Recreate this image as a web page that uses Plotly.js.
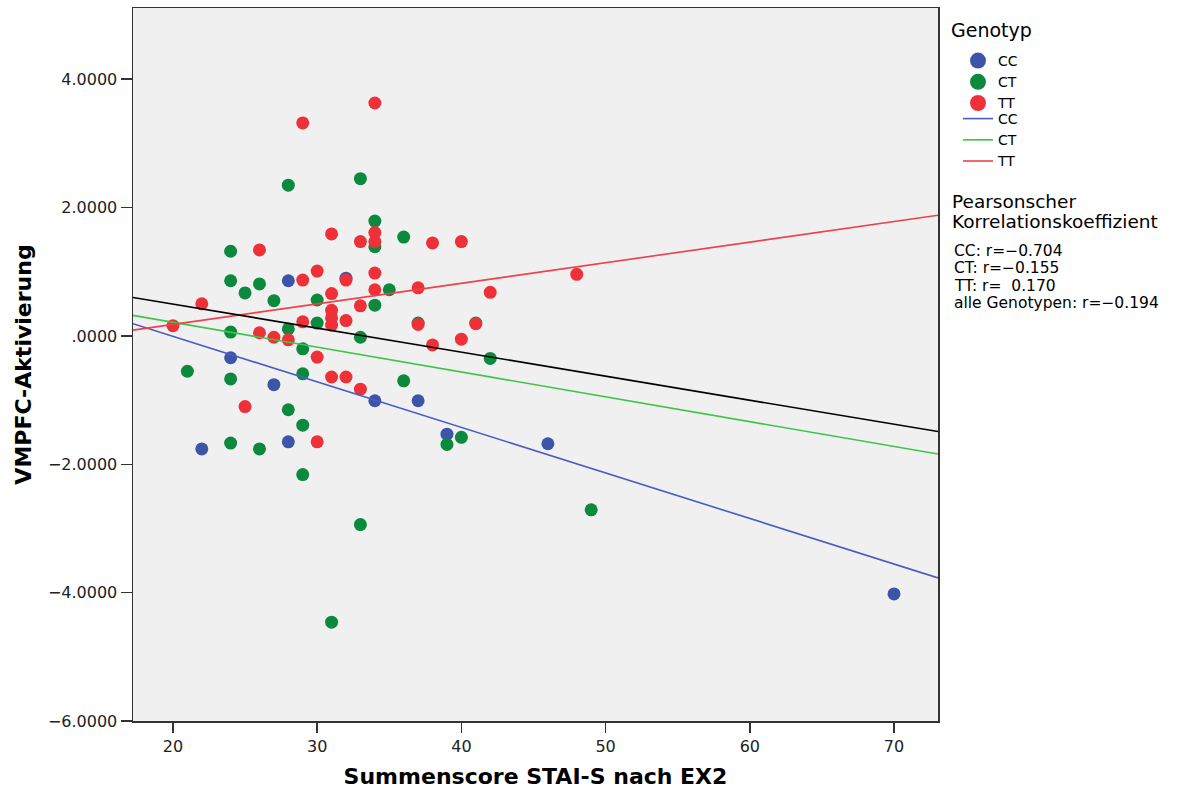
<!DOCTYPE html>
<html>
<head>
<meta charset="utf-8">
<script src="https://cdn.plot.ly/plotly-3.0.1.min.js"></script>
<style>
html, body { margin: 0; padding: 0; background: #ffffff; }
#chart { width: 1195px; height: 791px; }
</style>
</head>
<body>
<div id="chart"></div>
<script>
// ---- data ----
const ccX = [22, 24, 27, 28, 28, 32, 34, 37, 39, 46, 70];
const ccY = [-1.76, -0.34, -0.76, -1.65, 0.86, 0.90, -1.01, -1.01, -1.53, -1.68, -4.02];

const ctX = [28, 24, 24, 25, 26, 27, 30, 30, 28, 24, 29, 21, 24, 29, 28, 29, 24, 26, 29,
             33, 34, 34, 36, 35, 34, 33, 36, 42, 37, 41, 40, 39, 33, 31, 49];
const ctY = [2.35, 1.32, 0.86, 0.67, 0.81, 0.55, 0.56, 0.20, 0.11, 0.06, -0.20, -0.55, -0.67, -0.59, -1.15, -1.39, -1.67, -1.76, -2.16,
             2.45, 1.79, 1.39, 1.54, 0.72, 0.48, -0.02, -0.70, -0.35, 0.20, 0.20, -1.58, -1.69, -2.94, -4.46, -2.71];

const ttX = [29, 34, 31, 26, 33, 34, 34, 38, 40, 30, 34, 29, 32, 22, 20, 31, 31, 31, 31, 32,
             29, 26, 27, 28, 30, 31, 32, 25, 30, 34, 33, 37, 42, 37, 41, 38, 40, 33, 48];
const ttY = [3.32, 3.63, 1.59, 1.34, 1.47, 1.61, 1.47, 1.45, 1.47, 1.01, 0.98, 0.87, 0.87, 0.50, 0.16, 0.66, 0.40, 0.28, 0.17, 0.24,
             0.22, 0.05, -0.02, -0.06, -0.33, -0.64, -0.64, -1.10, -1.65, 0.72, 0.47, 0.75, 0.68, 0.18, 0.19, -0.14, -0.05, -0.83, 0.96];

// fit lines (values at the two ends of the x axis)
const fitX = [17.23, 73.05];
const fitCC = [0.19, -3.77];
const fitCT = [0.32, -1.84];
const fitTT = [0.09, 1.88];
const fitAll = [0.60, -1.49];

const genotypes = ['CC', 'CT', 'TT'];
const yTickVals = [-6, -4, -2, 0, 2, 4];
const yTickText = ['\u22126.0000', '\u22124.0000', '\u22122.0000', '.0000', '2.0000', '4.0000'];
const xTickVals = [20, 30, 40, 50, 60, 70];
const corrTitle = ['Pearsonscher', 'Korrelationskoeffizient'];
const corrLines = ['CC: r=\u22120.704', 'CT: r=\u22120.155', 'TT: r=\u00a0\u00a00.170', 'alle Genotypen: r=\u22120.194'];

// ---- styling ----
const dotColors = ['#3d55a8', '#0b8a3e', '#ee3138'];
const lineColors = ['#4a5cc4', '#40c448', '#f0404a'];
const FONT = 'DejaVu Sans, Verdana, sans-serif';

const pts = [[ccX, ccY], [ctX, ctY], [ttX, ttY]];
const fits = [fitCC, fitCT, fitTT];
const traces = [];

pts.forEach((p, i) => {
  traces.push({
    x: p[0], y: p[1], type: 'scatter', mode: 'markers',
    name: genotypes[i], showlegend: false,
    marker: { size: 13, color: dotColors[i], line: { width: 0 } },
    hoverinfo: 'x+y'
  });
});
// legend entries for the dots (larger symbol as in the reference)
genotypes.forEach((g, i) => {
  traces.push({
    x: [null], y: [null], type: 'scatter', mode: 'markers',
    name: g, legend: 'legend', showlegend: true,
    marker: { size: 16, color: dotColors[i] }
  });
});
fits.forEach((f, i) => {
  traces.push({
    x: fitX, y: f, type: 'scatter', mode: 'lines',
    name: genotypes[i], legend: 'legend2', showlegend: true,
    line: { color: lineColors[i], width: 1.6 }, hoverinfo: 'skip'
  });
});
traces.push({
  x: fitX, y: fitAll, type: 'scatter', mode: 'lines',
  name: 'alle Genotypen', showlegend: false,
  line: { color: '#000000', width: 1.6 }, hoverinfo: 'skip'
});

const L = 133, R = 938, T = 8, B = 721;
const px2x = v => (v - L) / (R - L);
const px2y = v => (B - v) / (B - T);

const annotations = [];
annotations.push({
  text: 'Genotyp', xref: 'paper', yref: 'paper', x: px2x(949), y: px2y(30),
  xanchor: 'left', yanchor: 'middle', showarrow: false,
  font: { family: FONT, size: 19, color: '#000' }
});
const titleYs = [201, 221];
corrTitle.forEach((t, i) => annotations.push({
  text: t, xref: 'paper', yref: 'paper', x: px2x(951), y: px2y(titleYs[i]),
  xanchor: 'left', yanchor: 'middle', showarrow: false, borderpad: 0,
  font: { family: FONT, size: 18.5, color: '#000' }
}));
const rYs = [251, 268, 286, 303];
corrLines.forEach((t, i) => annotations.push({
  text: t, xref: 'paper', yref: 'paper', x: px2x(953), y: px2y(rYs[i]),
  xanchor: 'left', yanchor: 'middle', showarrow: false, borderpad: 0,
  font: { family: FONT, size: 15.5, color: '#000' }
}));

const layout = {
  width: 1195, height: 791,
  margin: { l: L, r: 1195 - R, t: T, b: 791 - B, pad: 0 },
  paper_bgcolor: '#ffffff',
  plot_bgcolor: '#f0f0f0',
  font: { family: FONT, color: '#222' },
  showlegend: true,
  xaxis: {
    range: [17.23, 73.05], tickvals: xTickVals,
    ticks: 'outside', ticklen: 10, tickwidth: 1.5, tickcolor: '#333',
    showline: true, linecolor: '#333', linewidth: 1.5, mirror: true,
    showgrid: false, zeroline: false,
    tickfont: { family: FONT, size: 16, color: '#222' },
    title: { text: 'Summenscore STAI-S nach EX2', standoff: 14,
             font: { family: FONT, size: 22, weight: 'bold', color: '#000' } }
  },
  yaxis: {
    range: [-6, 5.11], tickvals: yTickVals, ticktext: yTickText,
    ticks: 'outside', ticklen: 11, tickwidth: 1.5, tickcolor: '#333',
    showline: true, linecolor: '#333', linewidth: 1.5, mirror: true,
    showgrid: false, zeroline: false,
    tickfont: { family: FONT, size: 16, color: '#222' },
    title: { text: 'VMPFC-Aktivierung', standoff: 10,
             font: { family: FONT, size: 22, weight: 'bold', color: '#000' } }
  },
  legend: {
    x: px2x(958), y: px2y(45), xanchor: 'left', yanchor: 'top',
    bgcolor: 'rgba(0,0,0,0)', borderwidth: 0, tracegroupgap: 0,
    font: { family: FONT, size: 14, color: '#000' }
  },
  legend2: {
    x: px2x(958), y: px2y(103), xanchor: 'left', yanchor: 'top',
    bgcolor: 'rgba(0,0,0,0)', borderwidth: 0, tracegroupgap: 0,
    font: { family: FONT, size: 14, color: '#000' }
  },
  annotations: annotations
};

Plotly.newPlot('chart', traces, layout, { displayModeBar: false, staticPlot: true });
</script>
</body>
</html>
